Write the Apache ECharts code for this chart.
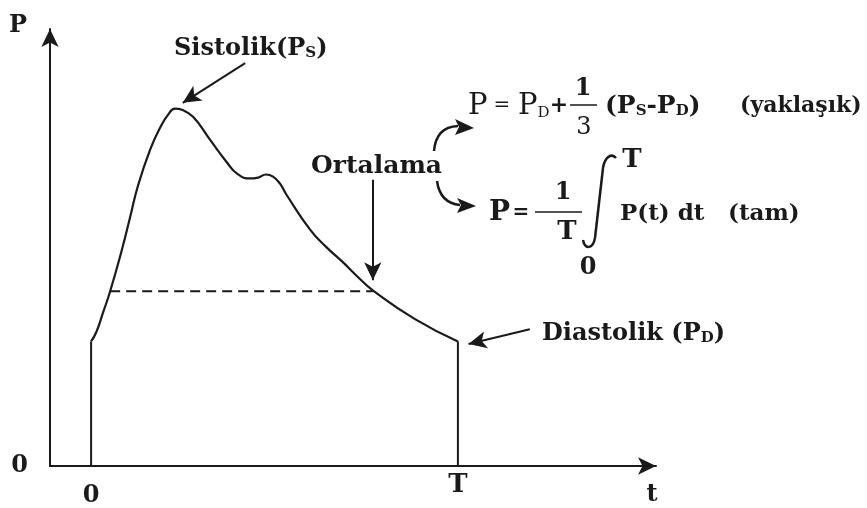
<!DOCTYPE html>
<html>
<head>
<meta charset="utf-8">
<script src="https://cdn.jsdelivr.net/npm/echarts@6/dist/echarts.min.js"></script>
<style>
html,body{margin:0;padding:0;background:#fff}
#chart{width:867px;height:508px}
</style>
</head>
<body>
<div id="chart"></div>
<script>
// zaman: T'nin kesri, basinc: keyfi birim (0..100)
var curveTime = [0, 0.014, 0.033, 0.052, 0.084, 0.106, 0.128, 0.161, 0.188, 0.210, 0.229, 0.248, 0.278, 0.324, 0.371, 0.398, 0.433, 0.455, 0.477, 0.496, 0.515, 0.534, 0.597, 0.640, 0.687, 0.728, 0.768, 0.883, 1]
var curvePressure = [28.5, 30.6, 35.2, 40.0, 49.5, 56.8, 64.2, 72.4, 77.4, 80.4, 81.8, 81.5, 79.9, 74.7, 69.4, 66.9, 65.8, 66.0, 66.7, 66.2, 64.6, 61.9, 54.1, 50.2, 46.6, 43.2, 40.2, 33.6, 28.5]
var diastolicP = 28.5
var meanP = 40.0
var meanStart = 0.052
var meanEnd = 0.768
var xTickValues = [0, 1]
var xTickLabels = ['0', 'T']
var yTickValues = [0]
var yTickLabels = ['0']

var ink = '#1a1a1a'
var serif = 'DejaVu Serif'

var curveData = []
for (var i = 0; i < curveTime.length; i++) {
  curveData.push([curveTime[i], curvePressure[i]])
}

function txt(x, y, text, size, align, weight, rich) {
  return {
    type: 'text', x: x, y: y, silent: true,
    style: {
      text: text, fontFamily: serif, fontSize: size, fontWeight: weight || 'bold',
      fill: ink, align: align || 'left', verticalAlign: 'middle', rich: rich
    }
  }
}
function curve(x1, y1, cx1, cy1, cx2, cy2, x2, y2, w) {
  var shape = { x1: x1, y1: y1, cpx1: cx1, cpy1: cy1, x2: x2, y2: y2 }
  if (cx2 != null) { shape.cpx2 = cx2; shape.cpy2 = cy2 }
  return { type: 'bezierCurve', silent: true, shape: shape, style: { stroke: ink, lineWidth: w || 2.5, fill: null } }
}
var sub = { s: { fontSize: 15, fontFamily: serif, fontWeight: 'bold', fill: ink, verticalAlign: 'bottom' } }
var subReg = { s: { fontSize: 15, fontFamily: serif, fontWeight: 'normal', fill: ink, verticalAlign: 'bottom' } }

var chart = echarts.init(document.getElementById('chart'))
chart.setOption({
  animation: false,
  backgroundColor: '#fff',
  grid: { left: 50, right: 211, top: 29, bottom: 41 },
  xAxis: {
    type: 'value', min: -0.112, max: 1.54,
    axisLine: { show: true, onZero: false, symbol: ['none', 'arrow'], symbolSize: [13, 18], lineStyle: { color: ink, width: 2 } },
    axisTick: { show: false },
    splitLine: { show: false },
    axisLabel: {
      customValues: xTickValues, margin: 6,
      formatter: function (v) {
        var s = xTickLabels[xTickValues.indexOf(v)]
        return v === 0 ? '{z|' + s + '}' : '{t|' + s + '}'
      },
      rich: {
        z: { fontFamily: serif, fontSize: 24, fontWeight: 'bold', color: ink, padding: [12, 0, 0, 0] },
        t: { fontFamily: serif, fontSize: 26, fontWeight: 'bold', color: ink }
      }
    }
  },
  yAxis: {
    type: 'value', min: 0, max: 100,
    axisLine: { show: true, onZero: false, symbol: ['none', 'arrow'], symbolSize: [13, 18], lineStyle: { color: ink, width: 2 } },
    axisTick: { show: false },
    splitLine: { show: false },
    axisLabel: {
      customValues: yTickValues, margin: 22,
      formatter: function (v) { return yTickLabels[yTickValues.indexOf(v)] },
      fontFamily: serif, fontSize: 24, fontWeight: 'bold', color: ink
    }
  },
  series: [
    {
      type: 'line', data: [[0, 0], [0, diastolicP]], symbol: 'none',
      lineStyle: { color: ink, width: 2 }
    },
    {
      type: 'line', data: curveData, smooth: 0.5, symbol: 'none',
      lineStyle: { color: ink, width: 2.2 },
      markLine: {
        silent: true, symbol: ['none', 'arrow'], symbolSize: [13, 18],
        label: { show: false },
        lineStyle: { color: ink, width: 2, type: 'solid' },
        data: [
          [{ coord: [0.420, 92.2] }, { coord: [0.250, 83.1] }],
          [{ coord: [0.768, 65.5] }, { coord: [0.768, 42.5] }],
          [{ coord: [1.196, 31.3] }, { coord: [1.029, 27.9] }]
        ]
      }
    },
    {
      type: 'line', data: [[1, diastolicP], [1, 0]], symbol: 'none',
      lineStyle: { color: ink, width: 2 }
    },
    {
      type: 'line', data: [[meanStart, meanP], [meanEnd, meanP]], symbol: 'none',
      lineStyle: { color: ink, width: 2, type: [10, 6] }
    }
  ],
  graphic: [
    txt(18, 26, 'P', 24, 'center'),
    txt(652, 495, 't', 24, 'center'),
    txt(174, 49, 'Sistolik(P{s|S})', 24, 'left', 'bold', sub),
    txt(311, 166, 'Ortalama', 25),
    txt(542, 334, 'Diastolik (P{s|D})', 24, 'left', 'bold', sub),
    // yaklasik formul
    txt(468, 106, 'P', 29, 'left', 'normal'),
    txt(502, 106, '=', 20, 'center', 'normal'),
    txt(518, 106, 'P{s|D}', 29, 'left', 'normal', subReg),
    txt(559, 106, '+', 22, 'center'),
    txt(583, 89, '1', 24, 'center'),
    { type: 'line', silent: true, shape: { x1: 570, y1: 105, x2: 597, y2: 105 }, style: { stroke: ink, lineWidth: 1.5 } },
    txt(584, 128, '3', 24, 'center', 'normal'),
    txt(605, 106, '(P{s|S}-P{s|D})', 25, 'left', 'bold', sub),
    txt(740, 106, '(yaklaşık)', 22),
    // tam formul
    txt(489, 213, 'P', 28),
    txt(521, 213, '=', 20, 'center'),
    txt(563, 193, '1', 24, 'center'),
    { type: 'line', silent: true, shape: { x1: 535, y1: 212, x2: 582, y2: 212 }, style: { stroke: ink, lineWidth: 1.5 } },
    txt(567, 232, 'T', 26, 'center'),
    // integral isareti
    curve(583, 240, 585, 250, 593, 249, 595, 238),
    { type: 'line', silent: true, shape: { x1: 595, y1: 238, x2: 603, y2: 168 }, style: { stroke: ink, lineWidth: 2.5 } },
    curve(603, 168, 605, 156, 612, 153, 616, 158),
    txt(632, 160, 'T', 26, 'center'),
    txt(588, 268, '0', 24, 'center'),
    txt(620, 214, 'P(t) dt', 23),
    txt(728, 214, '(tam)', 23),
    // egri oklar
    curve(434, 151, 436, 127, null, null, 458, 126),
    { type: 'polygon', silent: true, shape: { points: [[474, 128], [455, 119], [459, 127], [455, 135]] }, style: { fill: ink } },
    curve(437, 181, 440, 203, null, null, 460, 205),
    { type: 'polygon', silent: true, shape: { points: [[476, 206], [457, 198], [461, 205], [457, 213]] }, style: { fill: ink } }
  ]
})
</script>
</body>
</html>
